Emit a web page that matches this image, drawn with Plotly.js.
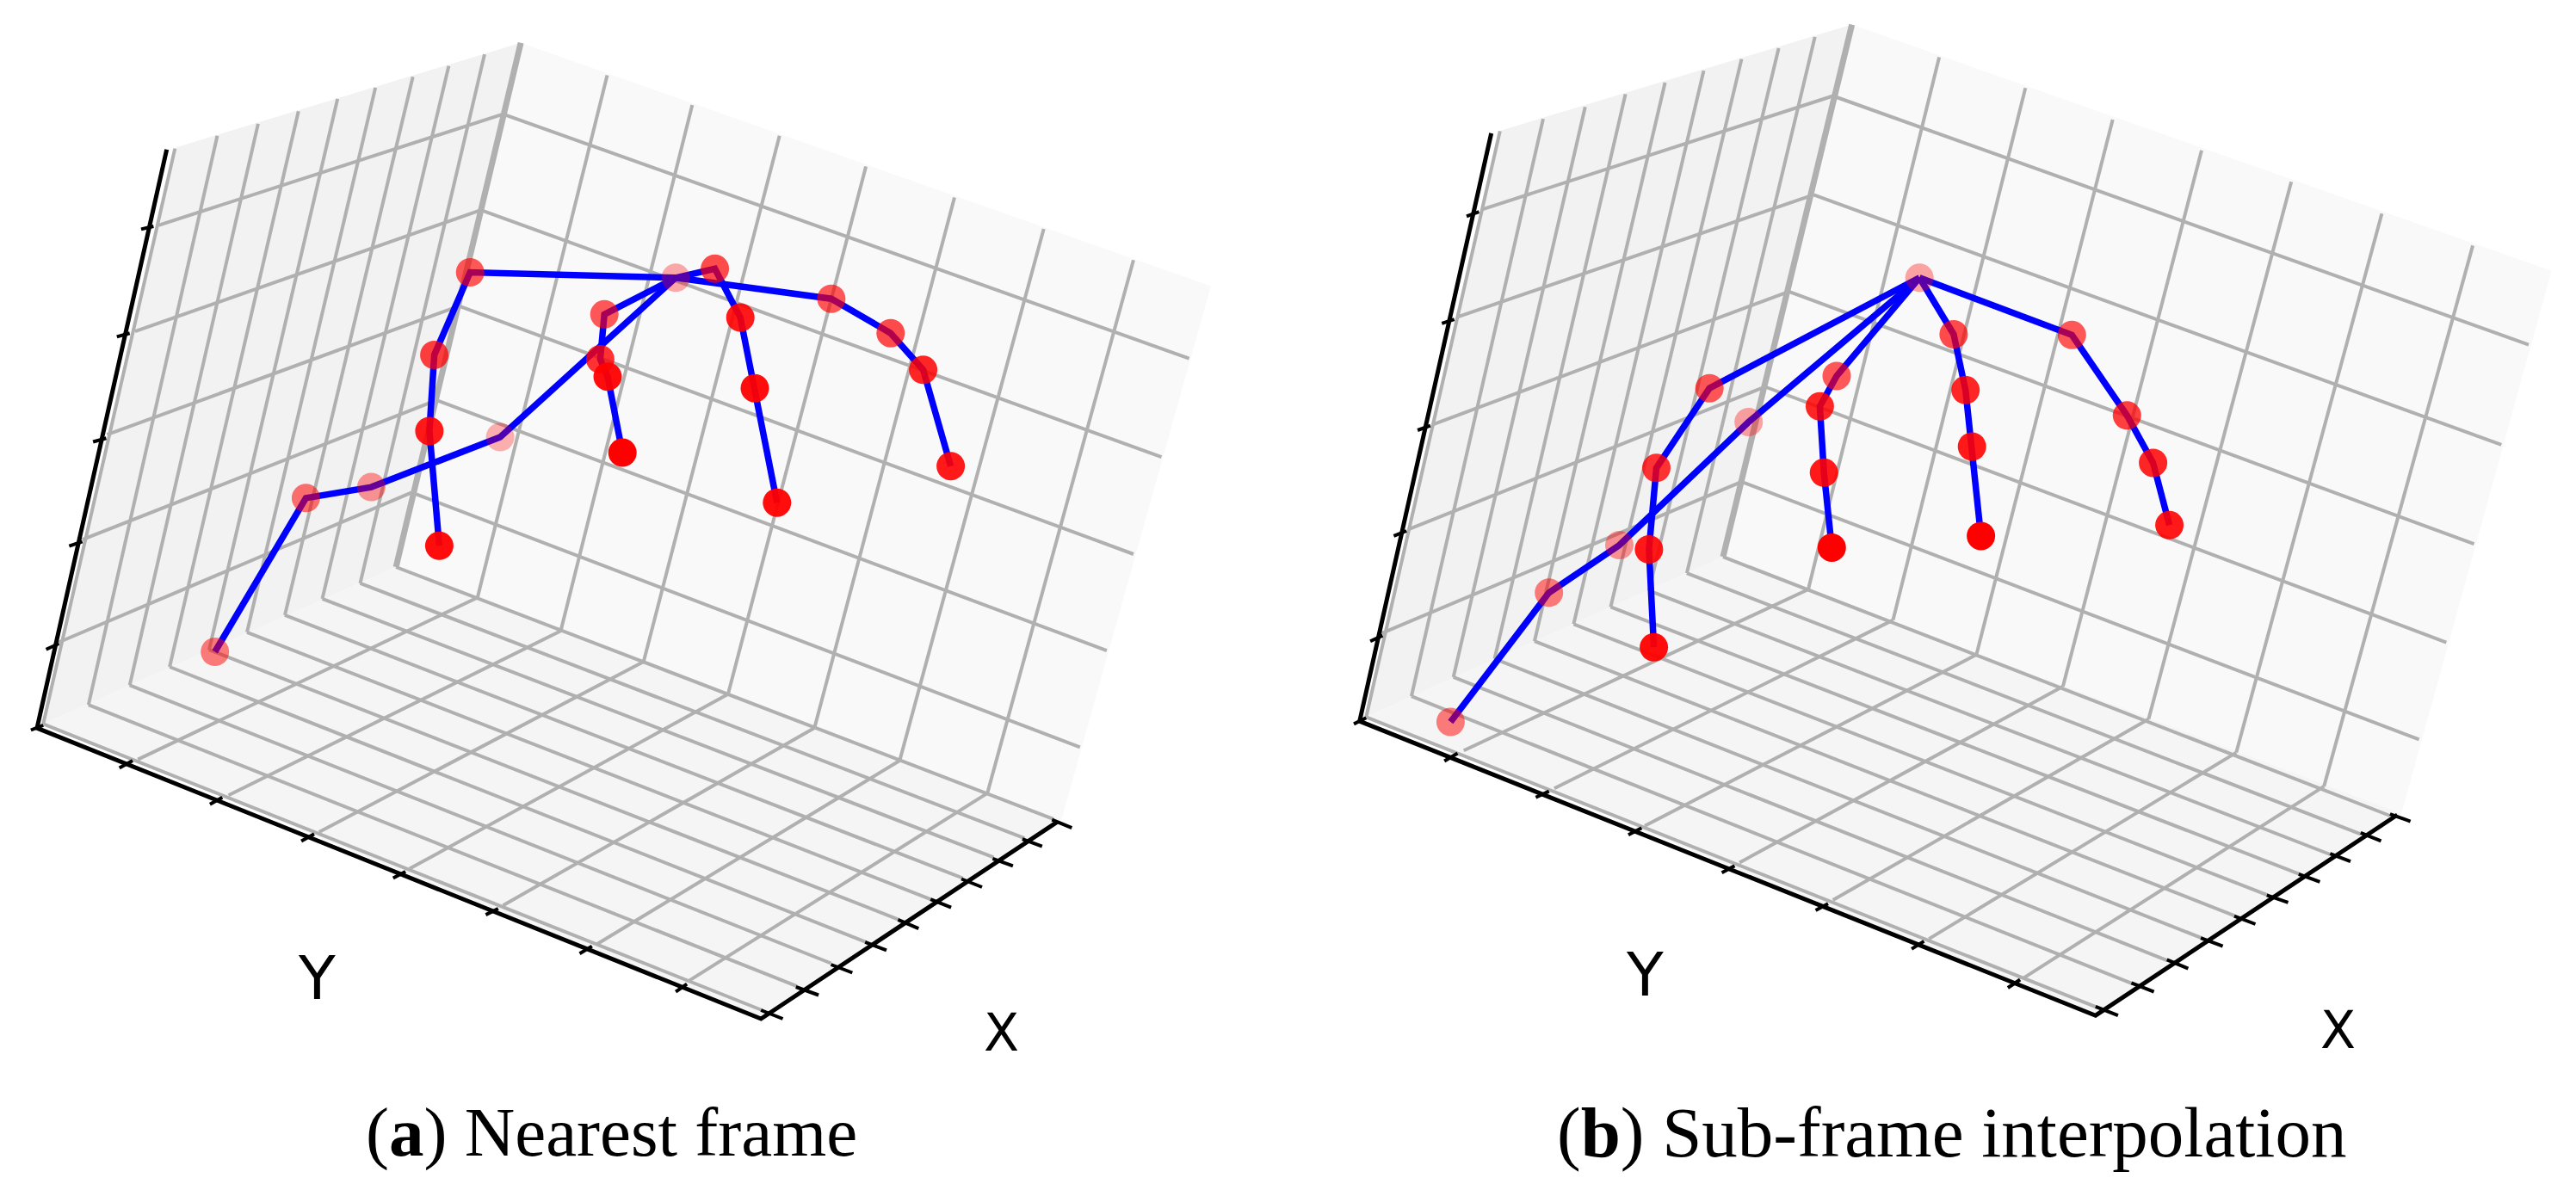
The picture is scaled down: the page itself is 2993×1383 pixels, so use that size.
<!DOCTYPE html>
<html>
<head>
<meta charset="utf-8">
<title>Nearest frame vs sub-frame interpolation</title>
<script src="https://cdn.plot.ly/plotly-3.0.1.min.js"></script>
<style>
  html, body { margin: 0; padding: 0; background: #fff; }
  #chart { width: 2993px; height: 1383px; }
</style>
</head>
<body>
<div id="chart"></div>
<script>

// panel a: panes [x..], [y..]
const leftWallAX = [203.3, 605.1, 460.1, 50.2];
const leftWallAY = [171.7, 49.7, 659, 841.4];
const rightWallAX = [605.1, 1406.9, 1233.3, 460.1];
const rightWallAY = [49.7, 332.5, 952.7, 659];
const floorAX = [50.2, 460.1, 1233.3, 884.2];
const floorAY = [841.4, 659, 952.7, 1184];

// panel a: grid segments [x1, y1, x2, y2]
const wallVertA = [
  [203.3, 172.6, 50.2, 841.4], [252.5, 157.8, 102.8, 819.1], [299.9, 143.9, 150.7, 796.4],
  [346.8, 129.2, 197.1, 775], [392.2, 114.9, 243, 755.1], [436.2, 101.9, 287, 734.8],
  [479.7, 89.2, 331, 714.9], [521.4, 76.6, 374.5, 695.9], [563, 63.1, 418.5, 677.9]
];
const wallHorizA = [
  [184.2, 261.8, 584.5, 132.6], [156.9, 385.1, 558.7, 244.1], [124.4, 505.1, 533.3, 355.7],
  [95.7, 627.2, 507, 465.1], [64.6, 748, 478.3, 572.4]
];
const rightHorizA = [
  [584.5, 132.6, 1381.6, 416.7], [558.7, 244.1, 1349.5, 531.2], [533.3, 355.7, 1317, 644],
  [507, 465.1, 1285.9, 756.1], [478.3, 572.4, 1254.8, 868.4]
];
const rightVertA = [
  [705.5, 87.5, 554.8, 694.5], [804.3, 122.1, 651.5, 733.3], [905.7, 157.8, 747.8, 768.9],
  [1006.1, 193.6, 845.9, 806.8], [1109, 229.4, 946.3, 846.1], [1212.7, 266, 1045.3, 884],
  [1317, 302.2, 1147.2, 921.9]
];
const floorCrossA = [
  [160.2, 882.6, 554.8, 694.5], [265.5, 924.3, 651.5, 733.3], [370.7, 967, 747.8, 768.9],
  [475.9, 1009.6, 845.9, 806.8], [584.5, 1052.2, 946.3, 846.1], [693.6, 1097.3, 1045.3, 884],
  [800.4, 1139.9, 1147.2, 921.9]
];
const floorLongA = [
  [50.2, 841.4, 886.5, 1174.5], [102.8, 819.1, 925.8, 1146.1], [150.7, 796.4, 965.5, 1119.5],
  [197.1, 775, 1006.1, 1094.9], [243, 755.1, 1044.4, 1068.8], [287, 734.8, 1081.2, 1045.1],
  [331, 714.9, 1118.5, 1020.5], [374.5, 695.9, 1154.4, 996.3], [418.5, 677.9, 1190.3, 974.1],
  [460.1, 659, 1223.8, 951.8]
];
const backEdgeA = [[605.1, 49.7, 460.1, 659]];
const axisLineAX = [193.7, 43, 884.2, 1228.5];
const axisLineAY = [173.8, 846.1, 1184, 955.1];
const ticksA = [
  [164, 266.4, 178.4, 263], [135.8, 391.4, 150.7, 387.2], [108.1, 513.5, 123.4, 509.3],
  [80.4, 634.7, 95.7, 629.3], [53.6, 754.7, 68.4, 748], [35.9, 848.5, 50.2, 842.8],
  [138.7, 892.6, 154, 884], [243.9, 934.7, 258.3, 926.7], [350.1, 977.4, 365, 969.3],
  [456.8, 1020.5, 471.1, 1012.9], [564.4, 1063.1, 578.8, 1056], [673.5, 1108.2, 687.8, 1099.6],
  [785.1, 1152.7, 798.1, 1143.7],
  [884.2, 1174, 909.5, 1184], [924.8, 1147, 951.1, 1156.5], [965.5, 1121, 990.3, 1130.5],
  [1005.2, 1094.9, 1030, 1104.4], [1043.4, 1068.8, 1067.3, 1079.2], [1081.2, 1045.1, 1105.1, 1054.6],
  [1117.1, 1021.5, 1141, 1031], [1153.4, 997.8, 1176.9, 1006.3], [1187.9, 975, 1210.8, 983.5],
  [1222.3, 952.7, 1245.3, 962.2]
];

// panel a: the 21 hand joints
const jointsAX = [249.7, 355.4, 431.4, 581.1, 785.1,
  546.2, 504.6, 498.9, 510.4,
  702.2, 697.4, 706, 723.2,
  830.6, 860.2, 877, 902.8,
  965.9, 1034.8, 1072.6, 1104.6];
const jointsAY = [757.5, 578.8, 566.1, 508, 322.8,
  316.5, 412.5, 500.9, 634.3,
  365.3, 417.5, 437.7, 526.1,
  312.3, 369.1, 451.2, 584.2,
  347.2, 387.2, 429.8, 541.7];
const jointsAAlpha = [0.5, 0.55, 0.4, 0.3, 0.33,
  0.65, 0.75, 0.9, 0.95,
  0.65, 0.8, 0.95, 1,
  0.7, 0.9, 0.95, 0.95,
  0.65, 0.7, 0.85, 0.9];

// panel b: panes
const leftWallBX = [1741.3, 2151.7, 2002, 1587.3];
const leftWallBY = [152.4, 28.6, 647.1, 833.3];
const rightWallBX = [2151.7, 2964.6, 2790.2, 2002];
const rightWallBY = [28.6, 314.8, 945.6, 647.1];
const floorBX = [1587.3, 2002, 2790.2, 2434.8];
const floorBY = [833.3, 647.1, 945.6, 1180.2];

// panel b: grid segments
const wallVertB = [
  [1742.8, 152.4, 1587.3, 833.3], [1793, 138.1, 1639.9, 809.2], [1841.8, 124.2, 1688.7, 786.9],
  [1888.6, 109.4, 1736.5, 765.6], [1934.6, 96, 1782.9, 745.2], [1979.5, 82.1, 1828.4, 725.3],
  [2023.5, 68.6, 1871.4, 705.4], [2066.6, 56, 1915.9, 686.4], [2108.7, 42.9, 1959.9, 666.1]
];
const wallHorizB = [
  [1722.2, 243.3, 2129.7, 111.5], [1693.5, 368.3, 2107.2, 226.4], [1664.8, 493.3, 2078.5, 338.8],
  [1636.1, 615.4, 2050.8, 449.5], [1602.6, 737.1, 2023.5, 559.8]
];
const rightHorizB = [
  [2129.7, 111.5, 2938, 400.7], [2107.2, 226.4, 2906.3, 516.9], [2078.5, 338.8, 2874.5, 632.2],
  [2050.8, 449.5, 2842.3, 746.6], [2023.5, 559.8, 2810.6, 859.4]
];
const rightVertB = [
  [2253.1, 66.5, 2101, 685], [2353.3, 102.3, 2199.5, 720.6], [2454.7, 138.9, 2296.4, 760.8],
  [2558, 174.7, 2396.9, 797.8], [2662.2, 211.3, 2496.4, 835.7], [2767.4, 248.3, 2598.3, 874.6],
  [2873.1, 285.4, 2700.2, 913.9]
];
const floorCrossB = [
  [1700.7, 872.2, 2101, 685], [1805.9, 916.3, 2199.5, 720.6], [1911.1, 959.8, 2296.4, 760.8],
  [2021.1, 1002.5, 2396.9, 797.8], [2129.7, 1046.1, 2496.4, 835.7], [2241.2, 1091.1, 2598.3, 874.6],
  [2351.9, 1136.1, 2700.2, 913.9]
];
const floorLongB = [
  [1587.3, 833.3, 2436.2, 1170.7], [1639.9, 809.2, 2477.4, 1143.2], [1688.7, 786.9, 2517.7, 1116.2],
  [1736.5, 765.6, 2558, 1090.1], [1782.9, 745.2, 2595.9, 1064.1], [1828.4, 725.3, 2634.8, 1040.4],
  [1871.4, 705.4, 2671.7, 1015.8], [1915.9, 686.4, 2707.3, 993], [1959.9, 666.1, 2742.8, 969.3],
  [2002, 647.1, 2776.9, 948]
];
const backEdgeB = [[2151.7, 28.6, 2002, 647.1]];
const axisLineBX = [1732.7, 1579.7, 2434.8, 2785.4];
const axisLineBY = [154.9, 838.1, 1180.2, 947];
const ticksB = [
  [1704, 251.3, 1718.4, 246.2], [1675.3, 375.9, 1689.7, 371.2], [1647.1, 500, 1661.9, 494.6],
  [1619.4, 622.9, 1634.2, 617], [1592.1, 745.2, 1606.4, 738.6], [1573, 841.4, 1587.3, 834.3],
  [1678.2, 884.5, 1693.5, 875.5], [1784.4, 926.7, 1799.7, 919.6], [1892, 970.3, 1907.3, 962.2],
  [2000.6, 1014.3, 2015.4, 1006.3], [2109.6, 1057.9, 2124, 1050.3], [2221.1, 1102.9, 2235.4, 1093.9],
  [2332.9, 1148, 2347.1, 1138.5],
  [2434.8, 1169.8, 2460.9, 1180.2], [2476.5, 1142.3, 2502.6, 1152.7], [2517.7, 1115.3, 2542.4, 1125.7],
  [2557.1, 1090.1, 2582.6, 1099.6], [2595.9, 1064.6, 2620.5, 1074], [2633.8, 1040.4, 2658.5, 1048.9],
  [2670.8, 1015.8, 2695.4, 1024.8], [2707.3, 992.1, 2731, 1001.1], [2742.8, 967.9, 2766.5, 977.4],
  [2776.9, 946.1, 2800.6, 954.6]
];

// panel b: the 21 hand joints
const jointsBX = [1685.4, 1799.7, 1881.5, 2031.7, 2230.2,
  1986.2, 1924.5, 1915.9, 1921.6,
  2134, 2114.4, 2119.2, 2128.3,
  2269.9, 2283.7, 2291.2, 2301.6,
  2407.3, 2471.3, 2501.6, 2520.6];
const jointsBY = [839, 688.8, 633.5, 490.4, 322.8,
  451.2, 543.8, 638.5, 752.3,
  436.9, 472.3, 549.3, 636.4,
  388.5, 453.3, 519, 622.9,
  389.3, 482.8, 537.9, 610.3];
const jointsBAlpha = [0.5, 0.5, 0.4, 0.35, 0.35,
  0.65, 0.8, 0.9, 0.95,
  0.65, 0.85, 0.9, 1,
  0.7, 0.85, 0.9, 1,
  0.65, 0.75, 0.85, 0.9];

// how the joints link up, same hand in both panels
const bones = [
  [0, 1, 2, 3, 4],
  [4, 5, 6, 7, 8],
  [4, 9, 10, 11, 12],
  [4, 13, 14, 15, 16],
  [4, 17, 18, 19, 20]
];

const captionA = '(<b>a</b>) Nearest frame';
const captionB = '(<b>b</b>) Sub-frame interpolation';

const gridColor = '#b0b0b0';

function pane(x, y, color) {
  return {
    x: x.concat(x[0]), y: y.concat(y[0]), type: 'scatter', mode: 'lines',
    fill: 'toself', fillcolor: color, line: { width: 0 }, hoverinfo: 'skip'
  };
}

function segments(list, color, width) {
  const x = [];
  const y = [];
  list.forEach(s => {
    x.push(s[0], s[2], null);
    y.push(s[1], s[3], null);
  });
  return { x, y, type: 'scatter', mode: 'lines', line: { color, width }, hoverinfo: 'skip' };
}

function panel(p) {
  const traces = [
    pane(p.leftX, p.leftY, '#f2f2f2'),
    pane(p.rightX, p.rightY, '#f9f9f9'),
    pane(p.floorX, p.floorY, '#f5f5f5')
  ];
  [p.wallVert, p.wallHoriz, p.rightHoriz, p.rightVert, p.floorCross, p.floorLong].forEach(g => {
    traces.push(segments(g, gridColor, 4));
  });
  traces.push(segments(p.backEdge, gridColor, 7));
  traces.push({
    x: p.axisX, y: p.axisY, type: 'scatter', mode: 'lines',
    line: { color: '#000', width: 5 }, hoverinfo: 'skip'
  });
  traces.push(segments(p.ticks, '#000', 4));
  bones.forEach(chain => {
    traces.push({
      x: chain.map(i => p.jointsX[i]), y: chain.map(i => p.jointsY[i]),
      type: 'scatter', mode: 'lines',
      line: { color: '#0000ff', width: 7.5 }, hoverinfo: 'skip'
    });
  });
  traces.push({
    x: p.jointsX, y: p.jointsY, type: 'scatter', mode: 'markers',
    marker: { size: 33, color: p.alpha.map(a => `rgba(255,0,0,${a})`), line: { width: 0 } },
    hoverinfo: 'skip'
  });
  return traces;
}

const data = panel({
  leftX: leftWallAX, leftY: leftWallAY, rightX: rightWallAX, rightY: rightWallAY,
  floorX: floorAX, floorY: floorAY, wallVert: wallVertA, wallHoriz: wallHorizA,
  rightHoriz: rightHorizA, rightVert: rightVertA, floorCross: floorCrossA, floorLong: floorLongA,
  backEdge: backEdgeA, axisX: axisLineAX, axisY: axisLineAY, ticks: ticksA,
  jointsX: jointsAX, jointsY: jointsAY, alpha: jointsAAlpha
}).concat(panel({
  leftX: leftWallBX, leftY: leftWallBY, rightX: rightWallBX, rightY: rightWallBY,
  floorX: floorBX, floorY: floorBY, wallVert: wallVertB, wallHoriz: wallHorizB,
  rightHoriz: rightHorizB, rightVert: rightVertB, floorCross: floorCrossB, floorLong: floorLongB,
  backEdge: backEdgeB, axisX: axisLineBX, axisY: axisLineBY, ticks: ticksB,
  jointsX: jointsBX, jointsY: jointsBY, alpha: jointsBAlpha
}));

const axisFont = size => ({ family: 'DejaVu Sans', size, color: '#000' });
const captionFont = size => ({ family: 'Liberation Serif', size, color: '#000' });

function note(text, x, y, font) {
  return { text, x, y, xref: 'x', yref: 'y', showarrow: false, font, xanchor: 'center', yanchor: 'middle' };
}

const layout = {
  width: 2993,
  height: 1383,
  margin: { l: 0, r: 0, t: 0, b: 0 },
  paper_bgcolor: '#fff',
  plot_bgcolor: '#fff',
  showlegend: false,
  xaxis: { range: [0, 2993], visible: false, fixedrange: true },
  yaxis: { range: [1383, 0], visible: false, fixedrange: true },
  annotations: [
    note('Y', 368.3, 1137, axisFont(70)),
    note('X', 1163, 1200, axisFont(60)),
    note('Y', 1911, 1133, axisFont(70)),
    note('X', 2716.7, 1197, axisFont(60)),
    note(captionA, 710, 1316, captionFont(81)),
    note(captionB, 2267, 1316, captionFont(83))
  ]
};

Plotly.newPlot('chart', data, layout, { displayModeBar: false, responsive: false });
</script>
</body>
</html>
